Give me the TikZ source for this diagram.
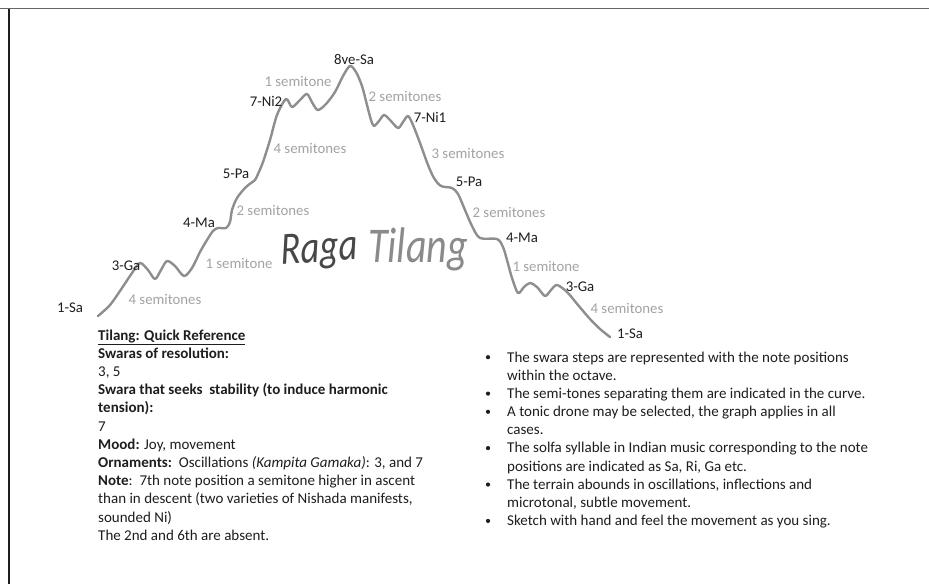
\documentclass[tikz,border=0pt]{standalone}
\usepackage{fontspec}
\setmainfont{Carlito}
\definecolor{curvegray}{HTML}{8E8E8E}
\definecolor{semigray}{HTML}{A3A3A3}
\definecolor{inkdark}{HTML}{1E1E1E}
\definecolor{ragadark}{HTML}{474747}
\definecolor{tilanggray}{HTML}{8A8A8A}
\tikzset{
  note/.style={text=inkdark, font=\fontsize{14.8}{17}\selectfont, inner sep=0pt},
  semi/.style={text=semigray, font=\fontsize{14.8}{17}\selectfont, inner sep=0pt},
  body/.style={text=inkdark, font=\fontsize{15}{18}\selectfont, inner sep=0pt, anchor=base west},
  curveline/.style={draw=curvegray, line width=2.4pt, line cap=round, line join=round},
}
\begin{document}
\begin{tikzpicture}[x=1pt,y=-1pt]
\useasboundingbox (0,0) rectangle (929,584);
\fill[white] (0,0) rectangle (929,584);
% frame
\draw[draw=black!60, line width=1.4pt] (0,8.5) -- (929,8.5);
\draw[draw=black!88, line width=1.2pt] (9,9) -- (9,584);

% the melodic curve
\draw[curveline] plot[smooth, tension=0.5] coordinates {
 (98,316) (110,305) (122,288) (132,273) (140,263) (148,270) (155,279)
 (161,270) (167,261) (175,266) (184,276) (192,268) (200,252) (207,240)
 (213,231) (218,228) (226,228) (230,222) (232,210) (237,198) (245,188)
 (251,183) (255,180) (258,174) (263,162) (270,140) (277,115) (286,99)
 (292,107) (300,100) (307,94) (313,104) (318,110) (326,104) (335,92)
 (343,76) (350,66) (356,72) (362,86) (367,105) (371,120) (374,126)
 (379,121) (384,115) (390,120) (398,128) (403,122) (408,116) (413,125)
 (420,143) (428,165) (434,178) (441,186) (452,188) (458,194) (465,210)
 (472,226) (480,238) (497,239) (503,247) (507,260) (512,278) (518,293)
 (524,287) (530,283) (537,287) (545,296) (551,290) (557,285) (567,292)
 (578,305) (590,319) (600,329) (610,337)};

% note labels
\node[note] (sa1) at (70,308) {1-Sa};
\node[note] (ga3) at (126,266) {3-Ga};
\node[note] (ma4) at (199,223) {4-Ma};
\node[note] (pa5) at (236,174) {5-Pa};
\node[note] (ni2) at (266,101) {7-Ni2};
\node[note] (sa8) at (354,59) {8ve-Sa};
\node[note] (ni1) at (430,117) {7-Ni1};
\node[note] (pa5d) at (469,182) {5-Pa};
\node[note] (ma4d) at (522,238) {4-Ma};
\node[note] (ga3d) at (580,287) {3-Ga};
\node[note] (sa1d) at (630,334) {1-Sa};

% semitone labels
\node[semi] (s1) at (165,299) {4 semitones};
\node[semi] (s2) at (239,263) {1 semitone};
\node[semi] (s3) at (273,210) {2 semitones};
\node[semi] (s4) at (310,148) {4 semitones};
\node[semi] (s5) at (298,81) {1 semitone};
\node[semi] (s6) at (405,96) {2 semitones};
\node[semi] (s7) at (468,153) {3 semitones};
\node[semi] (s8) at (509,212) {2 semitones};
\node[semi] (s9) at (546,266) {1 semitone};
\node[semi] (s10) at (627,308) {4 semitones};

% handwritten title
\node[text=ragadark, font=\fontsize{46}{46}\itshape, inner sep=0pt, anchor=base, xscale=0.8, rotate=3] (raga) at (320,262) {Raga};
\node[text=tilanggray, font=\fontsize{50}{50}\itshape, inner sep=0pt, anchor=base, xscale=0.8] (tilang) at (418,262) {Tilang};

% left reference text
\node[body] (l1) at (98,340.0) {\textbf{\underline{Tilang: Quick Reference}}};
\node[body] (l2) at (98,358.2) {\textbf{Swaras of resolution:}};
\node[body] (l3) at (98,376.4) {3, 5};
\node[body] (l4) at (98,394.6) {\textbf{Swara that seeks\ \ stability (to induce harmonic}};
\node[body] (l5) at (98,412.8) {\textbf{tension):}};
\node[body] (l6) at (98,431.0) {7};
\node[body] (l7) at (98,449.2) {\textbf{Mood:} Joy, movement};
\node[body] (l8) at (98,467.4) {\textbf{Ornaments:}\ \ Oscillations \textit{(Kampita Gamaka)}: 3, and 7};
\node[body] (l9) at (98,485.6) {\textbf{Note}:\ \ 7th note position a semitone higher in ascent};
\node[body] (l10) at (98,503.8) {than in descent (two varieties of Nishada manifests,};
\node[body] (l11) at (98,522.0) {sounded Ni)};
\node[body] (l12) at (98,540.2) {The 2nd and 6th are absent.};

% right bullet list
\foreach \yy in {362.0,398.4,416.6,452.9,489.3,525.7}
  \fill[inkdark] (488,\yy-4.8) circle (2.1pt);
\node[body] (r1) at (507,362.0) {The swara steps are represented with the note positions};
\node[body] (r2) at (507,380.2) {within the octave.};
\node[body] (r3) at (507,398.4) {The semi-tones separating them are indicated in the curve.};
\node[body] (r4) at (507,416.6) {A tonic drone may be selected, the graph applies in all};
\node[body] (r5) at (507,434.7) {cases.};
\node[body] (r6) at (507,452.9) {The solfa syllable in Indian music corresponding to the note};
\node[body] (r7) at (507,471.1) {positions are indicated as Sa, Ri, Ga etc.};
\node[body] (r8) at (507,489.3) {The terrain abounds in oscillations, inflections and};
\node[body] (r9) at (507,507.5) {microtonal, subtle movement.};
\node[body] (r10) at (507,525.7) {Sketch with hand and feel the movement as you sing.};
\end{tikzpicture}
\end{document}
